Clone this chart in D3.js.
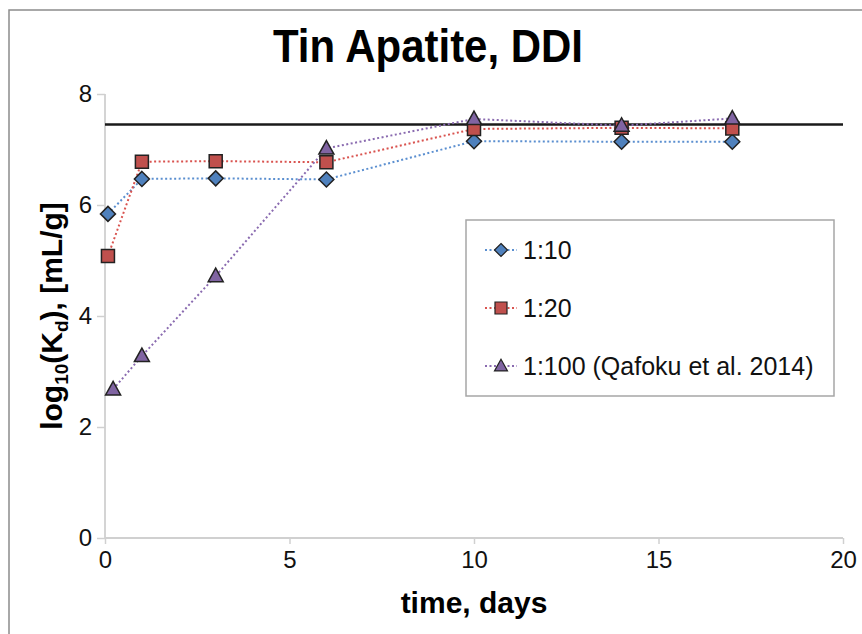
<!DOCTYPE html>
<html>
<head>
<meta charset="utf-8">
<script src="https://cdn.jsdelivr.net/npm/d3@7"></script>
<style>
  body { margin: 0; background: #fff; }
  text { font-family: "Liberation Sans", Arial, sans-serif; }
</style>
</head>
<body>
<div id="chart"></div>
<script>
// data
var days10  = [0.08, 1, 3, 6, 10, 14, 17];
var kd10    = [5.84, 6.47, 6.48, 6.46, 7.15, 7.14, 7.14];
var days20  = [0.08, 1, 3, 6, 10, 14, 17];
var kd20    = [5.08, 6.78, 6.79, 6.77, 7.37, 7.39, 7.38];
var days100 = [0.22, 1, 3, 6, 10, 14, 17];
var kd100   = [2.68, 3.28, 4.72, 7.02, 7.55, 7.43, 7.56];
var refLine = 7.45;
var seriesNames = ["1:10", "1:20", "1:100 (Qafoku et al. 2014)"];
var xTicks = [0, 5, 10, 15, 20];
var yTicks = [0, 2, 4, 6, 8];

var series = [
  {name: seriesNames[0], xs: days10, ys: kd10, color: "#4f81bd", line: "#5b8fd0", shape: "diamond"},
  {name: seriesNames[1], xs: days20, ys: kd20, color: "#c0504d", line: "#d9534f", shape: "square"},
  {name: seriesNames[2], xs: days100, ys: kd100, color: "#8064a2", line: "#8a6bb0", shape: "triangle"}
];

var W = 862, H = 634;
var margin = {top: 94, right: 19, bottom: 96, left: 105};
var width = W - margin.left - margin.right,
    height = H - margin.top - margin.bottom;

var svg = d3.select("#chart").append("svg")
  .attr("width", W).attr("height", H);

// chart area border
svg.append("rect")
  .attr("x", 9).attr("y", 10)
  .attr("width", 870).attr("height", 640)
  .attr("fill", "#fff").attr("stroke", "#8c8c8c").attr("stroke-width", 1.5);

// title
svg.append("text")
  .attr("x", 428).attr("y", 62)
  .attr("text-anchor", "middle")
  .attr("font-size", 46).attr("font-weight", "bold")
  .attr("textLength", 310).attr("lengthAdjust", "spacingAndGlyphs")
  .text("Tin Apatite, DDI");

var g = svg.append("g")
  .attr("transform", "translate(" + margin.left + "," + margin.top + ")");

var x = d3.scaleLinear().domain([0, 20]).range([0, width]);
var y = d3.scaleLinear().domain([0, 8]).range([height, 0]);

// y axis
var yAxis = g.append("g")
  .call(d3.axisLeft(y).tickValues(yTicks).tickSize(8).tickPadding(5).tickFormat(d3.format("d")));
// x axis
var xAxis = g.append("g")
  .attr("transform", "translate(0," + height + ")")
  .call(d3.axisBottom(x).tickValues(xTicks).tickSize(6).tickPadding(7).tickFormat(d3.format("d")));

[xAxis, yAxis].forEach(function(a) {
  a.select(".domain").attr("stroke", "#d0d0d0").attr("stroke-width", 1.8);
  a.selectAll(".tick line").attr("stroke", "#d0d0d0").attr("stroke-width", 1.5);
  a.selectAll(".tick text").attr("font-size", 24).attr("fill", "#111")
    .attr("font-family", "Liberation Sans, Arial, sans-serif");
});
xAxis.select(".domain").attr("d", "M0,0H" + width);
yAxis.select(".domain").attr("d", "M0,0V" + height);

// axis titles
svg.append("text")
  .attr("x", 474).attr("y", 613)
  .attr("text-anchor", "middle")
  .attr("font-size", 30).attr("font-weight", "bold")
  .text("time, days");

var yl = svg.append("text")
  .attr("transform", "translate(62," + (margin.top + height / 2) + ") rotate(-90)")
  .attr("text-anchor", "middle")
  .attr("font-size", 30).attr("font-weight", "bold");
yl.append("tspan").text("log");
yl.append("tspan").attr("font-size", 19).attr("dy", 6).text("10");
yl.append("tspan").attr("dy", -6).text("(K");
yl.append("tspan").attr("font-size", 19).attr("dy", 6).text("d");
yl.append("tspan").attr("dy", -6).text("), [mL/g]");

// reference line
g.append("line")
  .attr("x1", x(0)).attr("x2", x(20))
  .attr("y1", y(refLine)).attr("y2", y(refLine))
  .attr("stroke", "#1a1a1a").attr("stroke-width", 2.5);

// marker shapes, r = half size
function shapePath(shape, r) {
  if (shape === "diamond") return "M0," + (-r) + "L" + r + ",0L0," + r + "L" + (-r) + ",0Z";
  if (shape === "square") return "M" + (-r) + "," + (-r) + "H" + r + "V" + r + "H" + (-r) + "Z";
  return "M0," + (-r * 1.05) + "L" + r + "," + (r * 0.75) + "L" + (-r) + "," + (r * 0.75) + "Z";
}
var markerR = {diamond: 7.5, square: 6.5, triangle: 7.5};

var line = d3.line()
  .x(function(d) { return x(d[0]); })
  .y(function(d) { return y(d[1]); });

series.forEach(function(s) {
  var pts = s.xs.map(function(v, i) { return [v, s.ys[i]]; });
  g.append("path")
    .datum(pts)
    .attr("fill", "none")
    .attr("stroke", s.line)
    .attr("stroke-width", 2)
    .attr("stroke-dasharray", "2,2.5")
    .attr("d", line);
});

series.forEach(function(s) {
  var pts = s.xs.map(function(v, i) { return [v, s.ys[i]]; });
  g.selectAll(null)
    .data(pts)
    .enter().append("path")
    .attr("transform", function(d) {
      return "translate(" + x(d[0]) + "," + y(d[1]) + ")";
    })
    .attr("d", shapePath(s.shape, markerR[s.shape]))
    .attr("fill", s.color)
    .attr("stroke", "#222")
    .attr("stroke-width", 1.5)
    .attr("stroke-linejoin", "miter");
});

// legend
var lg = svg.append("g");
lg.append("rect")
  .attr("x", 466).attr("y", 220)
  .attr("width", 368).attr("height", 176)
  .attr("fill", "#fff").attr("stroke", "#a6a6a6").attr("stroke-width", 1.5);

var rowY = [250, 308, 366];
series.forEach(function(s, i) {
  var r = lg.append("g").attr("transform", "translate(0," + rowY[i] + ")");
  r.append("line")
    .attr("x1", 485).attr("x2", 517).attr("y1", 0).attr("y2", 0)
    .attr("stroke", s.line).attr("stroke-width", 2).attr("stroke-dasharray", "2,2.5");
  r.append("path")
    .attr("transform", "translate(501,0)")
    .attr("d", shapePath(s.shape, s.shape === "square" ? 6 : 6.5))
    .attr("fill", s.color).attr("stroke", "#222").attr("stroke-width", 1.2);
  r.append("text")
    .attr("x", 523).attr("y", 9)
    .attr("font-size", 25).attr("fill", "#111")
    .text(s.name);
});
</script>
</body>
</html>
